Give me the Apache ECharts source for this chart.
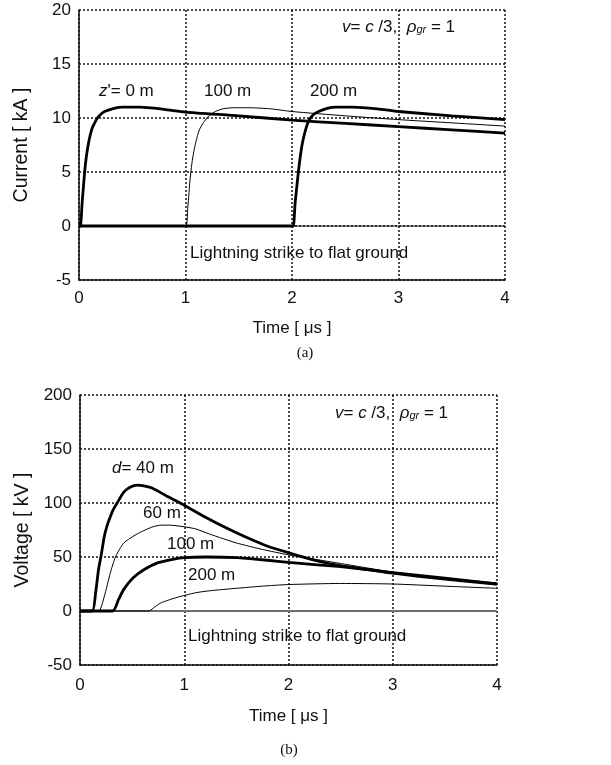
<!DOCTYPE html>
<html>
<head>
<meta charset="utf-8">
<script src="https://cdn.jsdelivr.net/npm/echarts@6/dist/echarts.min.js"></script>
<style>
  html, body { margin: 0; padding: 0; background: #fff; }
  #chart { width: 611px; height: 765px; }
</style>
</head>
<body>
<div id="chart"></div>
<script>
// (a) current along the channel, z' = 0 / 100 / 200 m
const t0m = [0, 0.013, 0.03, 0.053, 0.07, 0.088, 0.105, 0.125, 0.15, 0.173, 0.2, 0.24, 0.33, 0.41, 0.57, 0.8, 1.0, 1.5, 2.0, 2.5, 3.0, 3.5, 4.0]
const i0m = [0, 0, 2.2, 5.0, 6.5, 7.6, 8.4, 9.1, 9.6, 10.0, 10.3, 10.6, 10.9, 11.0, 11.0, 10.8, 10.55, 10.2, 9.8, 9.5, 9.2, 8.9, 8.6]
const t100m = [0, 1.0, 1.02, 1.04, 1.06, 1.08, 1.1, 1.13, 1.17, 1.22, 1.28, 1.35, 1.45, 1.6, 1.8, 2.0, 2.5, 3.0, 3.5, 4.0]
const i100m = [0, 0, 1.5, 4.0, 5.8, 7.0, 7.9, 8.9, 9.6, 10.2, 10.6, 10.85, 10.95, 10.95, 10.85, 10.6, 10.2, 9.85, 9.55, 9.25]
const t200m = [0, 2.0, 2.013, 2.03, 2.06, 2.08, 2.1, 2.13, 2.16, 2.2, 2.25, 2.33, 2.42, 2.57, 2.8, 3.0, 3.5, 4.0]
const i200m = [0, 0, 0, 2.2, 5.0, 6.6, 7.8, 9.0, 9.8, 10.3, 10.6, 10.9, 11.0, 11.0, 10.85, 10.6, 10.2, 9.85]

// (b) induced voltage, d = 40 / 60 / 100 / 200 m
const tD40 = [0, 0.118, 0.15, 0.178, 0.2, 0.233, 0.26, 0.29, 0.32, 0.356, 0.42, 0.48, 0.55, 0.6, 0.7, 0.84, 1.0, 1.2, 1.4, 1.6, 1.8, 2.0, 2.25, 2.5, 2.75, 3.0, 3.5, 4.0]
const vD40 = [0, 0, 17, 38.6, 50, 69, 79, 87, 94, 100, 110, 114.5, 116.5, 116, 113.5, 106, 98, 87, 77, 68, 60, 54, 47, 42, 38.5, 35, 29.5, 25]
const tD60 = [0, 0.178, 0.233, 0.29, 0.34, 0.42, 0.56, 0.7, 0.78, 0.86, 1.0, 1.11, 1.25, 1.5, 1.75, 2.0, 2.5, 3.0, 3.5, 4.0]
const vD60 = [0, 0, 13.5, 35, 50, 63, 72, 78, 79.5, 79.5, 78, 76, 71, 63, 57, 52, 44, 36, 30, 25]
const tD100 = [0, 0.315, 0.37, 0.42, 0.51, 0.62, 0.75, 0.89, 1.0, 1.2, 1.5, 1.8, 2.0, 2.5, 3.0, 3.5, 4.0]
const vD100 = [0, 0, 10.7, 20, 30.7, 38.6, 44.8, 47.9, 49.4, 50, 49.5, 47, 45, 41, 35.5, 30.5, 25]
const tD200 = [0, 0.66, 0.72, 0.78, 0.92, 1.11, 1.25, 1.5, 1.75, 2.0, 2.5, 3.0, 3.5, 4.0]
const vD200 = [0, 0, 4, 7.7, 12.3, 16.9, 18.8, 21, 23, 24.5, 25.5, 25, 23, 21]

const zeroT = [0, 4]
const zeroV = [0, 0]

const timeTicks = { min: 0, max: 4, interval: 1 }
const currentTicks = { min: -5, max: 20, interval: 5 }
const voltageTicks = { min: -50, max: 200, interval: 50 }

const pairs = (ts, vs) => ts.map((t, k) => [t, vs[k]])

const FONT = '"Liberation Sans", Arial, sans-serif'
const dotted = { color: '#111', width: 1.5, type: [2, 2] }

function xAxisCfg(idx, labelMargin, nameGap) {
  return {
    gridIndex: idx,
    type: 'value',
    ...timeTicks,
    name: 'Time [ μs ]',
    nameLocation: 'middle',
    nameGap: nameGap,
    nameTextStyle: { fontFamily: FONT, fontSize: 17, color: '#111' },
    axisLine: { onZero: false, lineStyle: { color: '#111', width: 1.5 } },
    axisTick: { show: false },
    axisLabel: { fontFamily: FONT, fontSize: 17, color: '#111', margin: labelMargin },
    splitLine: { show: true, lineStyle: dotted }
  }
}

function yAxisCfg(idx, ticks, name) {
  return {
    gridIndex: idx,
    type: 'value',
    ...ticks,
    name: name,
    nameLocation: 'middle',
    nameGap: 47,
    nameTextStyle: { fontFamily: FONT, fontSize: 19.5, color: '#111' },
    axisLine: { show: true, lineStyle: { color: '#111', width: 1.5 } },
    axisTick: { show: false },
    axisLabel: { fontFamily: FONT, fontSize: 17, color: '#111', margin: 8 },
    splitLine: { show: true, lineStyle: dotted }
  }
}

function curve(name, idx, data, width, color) {
  return {
    name: name,
    type: 'line',
    xAxisIndex: idx,
    yAxisIndex: idx,
    data: data,
    showSymbol: false,
    smooth: 0.2,
    lineStyle: { color: color || '#000', width: width },
    animation: false
  }
}

const rich = {
  i: { fontFamily: FONT, fontSize: 17, fontStyle: 'italic', color: '#111' },
  s: { fontFamily: FONT, fontSize: 11, fontStyle: 'italic', color: '#111', verticalAlign: 'bottom' }
}

function note(text, x, y) {
  return {
    type: 'text',
    style: {
      text: text, x: x, y: y,
      font: '17px ' + FONT,
      fill: '#111',
      verticalAlign: 'middle',
      rich: rich
    },
    z: 100
  }
}

function caption(text, x, y) {
  return {
    type: 'text',
    style: {
      text: text, x: x, y: y,
      font: '15px "Liberation Serif", "Times New Roman", serif',
      fill: '#111',
      align: 'center',
      verticalAlign: 'middle'
    }
  }
}

const chart = echarts.init(document.getElementById('chart'))

chart.setOption({
  backgroundColor: '#fff',
  animation: false,
  grid: [
    { left: 79, top: 10, width: 426, height: 270 },
    { left: 80, top: 395, width: 417, height: 270 }
  ],
  xAxis: [xAxisCfg(0, 10, 40), xAxisCfg(1, 12, 43)],
  yAxis: [
    yAxisCfg(0, currentTicks, 'Current [ kA ]'),
    yAxisCfg(1, voltageTicks, 'Voltage [ kV ]')
  ],
  series: [
    curve('zero a', 0, pairs(zeroT, zeroV), 1, '#111'),
    curve("z'=0 m", 0, pairs(t0m, i0m), 2.8),
    curve('100 m', 0, pairs(t100m, i100m), 1),
    curve('200 m', 0, pairs(t200m, i200m), 2.8),
    curve('zero b', 1, pairs(zeroT, zeroV), 2, '#6e6e6e'),
    curve('d=40 m', 1, pairs(tD40, vD40), 2.8),
    curve('60 m', 1, pairs(tD60, vD60), 1),
    curve('100 m', 1, pairs(tD100, vD100), 2.8),
    curve('200 m', 1, pairs(tD200, vD200), 1)
  ],
  graphic: [
    note("{i|z}'= 0 m", 99, 91),
    note('100 m', 204, 91),
    note('200 m', 310, 91),
    note('{i|v}= {i|c} /3,  {i|ρ}{s|gr} = 1', 342, 27),
    note('Lightning strike to flat ground', 190, 253),
    caption('(a)', 305, 353),
    note('{i|d}= 40 m', 112, 468),
    note('60 m', 143, 513),
    note('100 m', 167, 544),
    note('200 m', 188, 575),
    note('{i|v}= {i|c} /3,  {i|ρ}{s|gr} = 1', 335, 413),
    note('Lightning strike to flat ground', 188, 636),
    caption('(b)', 289, 750)
  ]
})

window.addEventListener('resize', () => chart.resize())
</script>
</body>
</html>
